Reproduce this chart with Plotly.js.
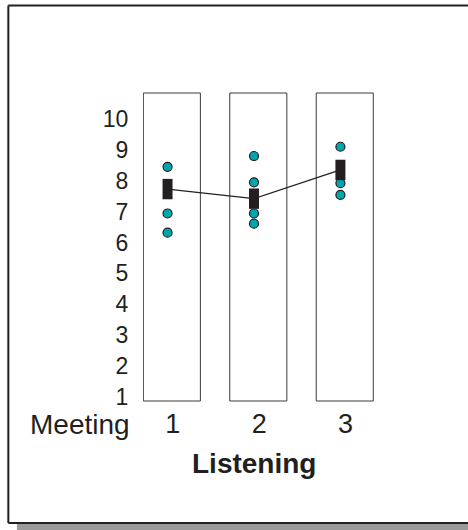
<!DOCTYPE html>
<html>
<head>
<meta charset="utf-8">
<script src="https://cdn.plot.ly/plotly-3.0.1.min.js"></script>
<style>html,body{margin:0;padding:0;background:#fff;overflow:hidden;}#chart{width:468px;height:530px;}</style>
</head>
<body>
<div id="chart"></div>
<script>
// Meeting numbers (categories)
const meetings = [1, 2, 3];
const tickLabels = ['1', '2', '3'];
// Individual ratings (Listening)
const pointMeeting = [1, 1, 1, 2, 2, 2, 2, 3, 3, 3];
const pointScore   = [8.45, 6.94, 6.32, 8.80, 7.95, 6.94, 6.61, 9.10, 7.92, 7.54];
// Mean ratings per meeting
const meanScore = [7.73, 7.42, 8.35];
const meanHalfRange = [0.33, 0.33, 0.33];
const yTicks = [1, 2, 3, 4, 5, 6, 7, 8, 9, 10];

const ink = '#231F20';
const font = 'Liberation Sans, Arial, sans-serif';

const traces = [
  {
    x: pointMeeting, y: pointScore, type: 'scatter', mode: 'markers',
    marker: {size: 9, color: '#00A6AD', line: {color: ink, width: 1.2}},
    hoverinfo: 'skip', cliponaxis: false
  },
  {
    x: meetings, y: meanScore, type: 'scatter', mode: 'lines',
    line: {color: ink, width: 1.3},
    error_y: {type: 'data', array: meanHalfRange, symmetric: true, thickness: 10, width: 0, color: ink},
    hoverinfo: 'skip', cliponaxis: false
  }
];

const shapes = [];
const fx0 = -0.5804, fx1 = 1.6, fy0 = -0.3961, fy1 = 1.284;
// outer frame shadow (bottom) and border lines (paper coords)
shapes.push({type: 'rect', xref: 'paper', yref: 'paper', x0: -0.5435, x1: fx1, y0: fy0, y1: -0.42, fillcolor: '#9a9a9a', line: {width: 0}, layer: 'below'});
shapes.push({type: 'line', xref: 'paper', yref: 'paper', x0: fx0, x1: fx1, y0: fy1, y1: fy1, line: {color: ink, width: 2}, layer: 'below'});
shapes.push({type: 'line', xref: 'paper', yref: 'paper', x0: fx0, x1: fx1, y0: fy0, y1: fy0, line: {color: ink, width: 2}, layer: 'below'});
shapes.push({type: 'line', xref: 'paper', yref: 'paper', x0: fx0, x1: fx0, y0: fy0, y1: fy1, line: {color: ink, width: 2}, layer: 'below'});
// box frame per meeting
meetings.forEach(m => {
  shapes.push({type: 'rect', xref: 'x', yref: 'paper', x0: m - 0.28, x1: m + 0.38, y0: 0, y1: 1,
    line: {color: '#3a3a3a', width: 1}, layer: 'below'});
});

const layout = {
  width: 468, height: 530,
  margin: {l: 143, r: 93, t: 93, b: 129},
  paper_bgcolor: '#ffffff', plot_bgcolor: 'rgba(0,0,0,0)',
  showlegend: false,
  xaxis: {
    range: [0.716, 3.4], showgrid: false, zeroline: false, showline: false,
    tickvals: meetings.map(m => m + 0.06), ticktext: tickLabels,
    ticks: '', ticklabelstandoff: 4,
    tickfont: {family: font, size: 27, color: ink}, fixedrange: true
  },
  yaxis: {
    range: [0.87, 10.84], showgrid: false, zeroline: false, showline: false,
    tickvals: yTicks, ticktext: yTicks.map(String),
    ticks: 'outside', ticklen: 9, tickcolor: 'rgba(0,0,0,0)',
    tickfont: {family: font, size: 23, color: ink}, fixedrange: true
  },
  shapes: shapes,
  annotations: [
    {text: 'Meeting', xref: 'paper', yref: 'paper', x: -0.2696, y: -0.0747,
     xanchor: 'center', yanchor: 'middle', showarrow: false,
     font: {family: font, size: 28, color: ink}},
    {text: '<b>Listening</b>', xref: 'paper', yref: 'paper', x: 0.478, y: -0.2013,
     xanchor: 'center', yanchor: 'middle', showarrow: false,
     font: {family: font, size: 28, color: ink}}
  ]
};

Plotly.newPlot('chart', traces, layout, {displayModeBar: false, staticPlot: true});
</script>
</body>
</html>
